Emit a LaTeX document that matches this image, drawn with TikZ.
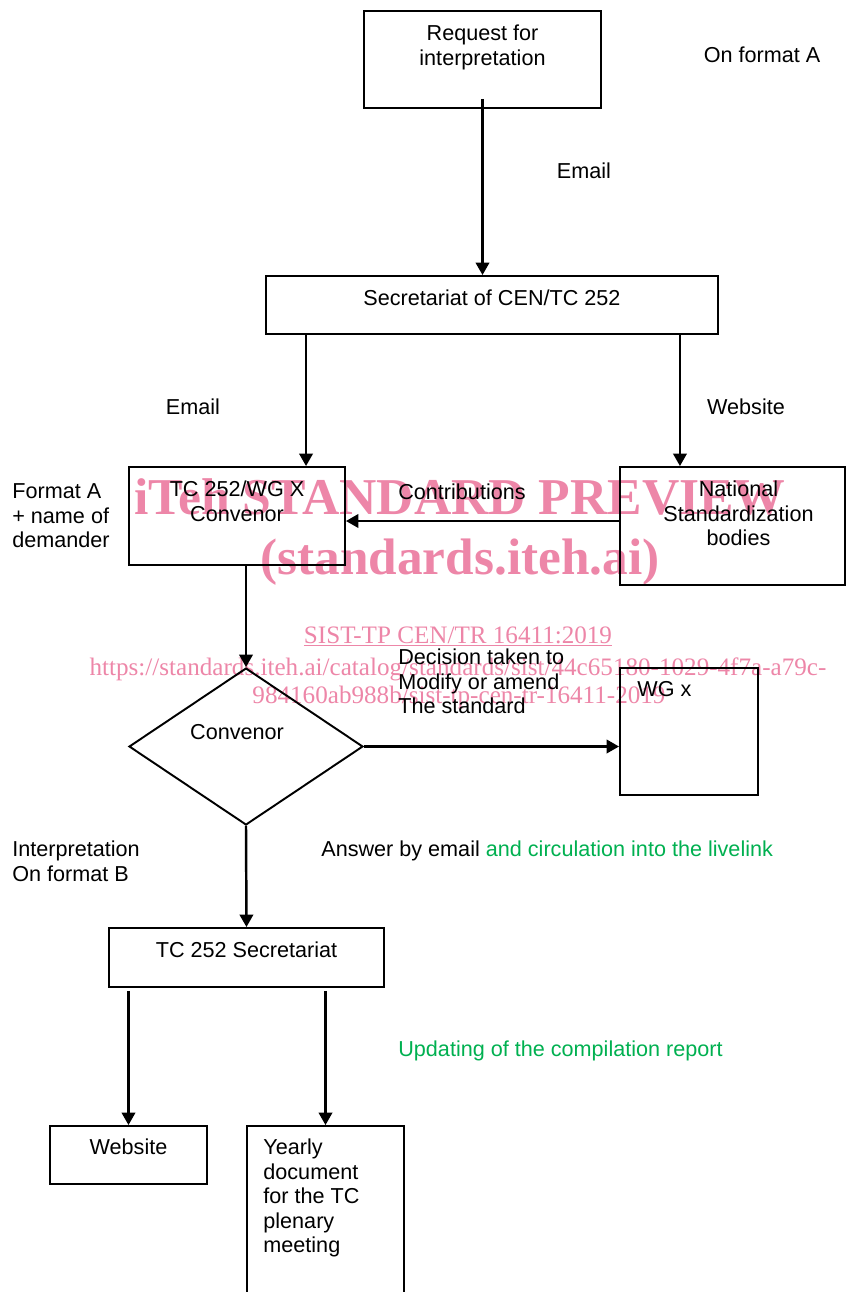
\documentclass[tikz,border=0pt]{standalone}
\usepackage{fontspec}
\setmainfont{Liberation Sans}
\newfontfamily\wmfont{Liberation Serif}
\usepackage{tikz}
\usetikzlibrary{shapes.geometric, arrows.meta, positioning}
\definecolor{wmpink}{RGB}{237,134,168}
\definecolor{livegreen}{RGB}{0,176,80}
\tikzstyle{box} = [rectangle, draw=black, line width=1.1pt, inner sep=0pt]
\tikzstyle{decision} = [diamond, draw=black, line width=1.1pt, inner sep=0pt, minimum width=4.68cm, minimum height=3.14cm]
\tikzstyle{boxtext} = [inner sep=0pt, align=center, font=\fontsize{12.3}{14}\selectfont]
\tikzstyle{note} = [inner sep=0pt, align=left, font=\fontsize{12.3}{14}\selectfont]
\tikzstyle{flow} = [draw=black, line width=1.4pt, -{Triangle[length=0.25cm, width=0.27cm]}]
\tikzstyle{wmark} = [inner sep=0pt, anchor=base, text=wmpink]

\begin{document}
\begin{tikzpicture}[x=0.02cm, y=-0.02cm]
\clip (0,0) rectangle (847,1292);

% Watermark (behind the chart)
\node (wmtitle) [wmark, font=\fontsize{29.4}{30}\wmfont\bfseries] at (460,514) {iTeh STANDARD PREVIEW};
\node (wmsite) [wmark, font=\fontsize{29.2}{30}\wmfont\bfseries] at (460,574) {(standards.iteh.ai)};
\node (wmref) [wmark, font=\fontsize{14.3}{15}\wmfont] at (458,643) {\underline{SIST-TP CEN/TR 16411:2019}};
\node (wmurl) [wmark, font=\fontsize{14.3}{15}\wmfont] at (458,675) {https://standards.iteh.ai/catalog/standards/sist/44c65180-1029-4f7a-a79c-};
\node (wmurltwo) [wmark, font=\fontsize{14.3}{15}\wmfont] at (459,703) {984160ab988b/sist-tp-cen-tr-16411-2019};

% Boxes
\node (req) [box, minimum width=4.74cm, minimum height=1.94cm] at (482.5,59.5) {};
\node (sec) [box, minimum width=9.04cm, minimum height=1.16cm] at (492,305) {};
\node (conv) [box, minimum width=4.32cm, minimum height=1.96cm] at (237,516) {};
\node (nsb) [box, minimum width=4.5cm, minimum height=2.36cm] at (732.5,526) {};
\node (dec) [decision] at (246,746.5) {};
\node (wgx) [box, minimum width=2.76cm, minimum height=2.54cm] at (689,731.5) {};
\node (tsec) [box, minimum width=5.5cm, minimum height=1.18cm] at (246.5,957.5) {};
\node (web) [box, minimum width=3.14cm, minimum height=1.16cm] at (128.5,1155) {};
\node (yearly) [box, minimum width=3.14cm, minimum height=4cm] at (325.5,1226) {};

% Box texts
\node (reqtext) [boxtext, below=0.29cm of req.north] {Request for\\interpretation};
\node (sectext) [boxtext, below=0.29cm of sec.north] {Secretariat of CEN/TC 252};
\node (convtext) [boxtext, below=0.29cm of conv.north] {TC 252/WG X\\Convenor};
\node (nsbtext) [boxtext, below=0.29cm of nsb.north, xshift=0.12cm] {National\\Standardization\\bodies};
\node (dectext) [boxtext, anchor=north] at (237,724.5) {Convenor};
\node (wgxtext) [note, below right=0.29cm and 0.36cm of wgx.north west] {WG x};
\node (tsectext) [boxtext, below=0.29cm of tsec.north] {TC 252 Secretariat};
\node (webtext) [boxtext, below=0.27cm of web.north] {Website};
\node (yearlytext) [note, below right=0.27cm and 0.34cm of yearly.north west] {Yearly\\document\\for the TC\\plenary\\meeting};

% Side notes
\node (onformat) [boxtext, anchor=north] at (762,46.5) {On format A};
\node (emailtop) [boxtext, anchor=north] at (584,162.5) {Email};
\node (emailleft) [boxtext, anchor=north] at (193,398.5) {Email};
\node (website) [boxtext, anchor=north] at (746,398.5) {Website};
\node (contrib) [boxtext, anchor=north] at (462,483.5) {Contributions};
\node (formata) [note, anchor=north west] at (12,483.5) {Format A\\+ name of\\demander};
\node (decision) [note, anchor=north west] at (398,648.5) {Decision taken to\\Modify or amend\\The standard};
\node (interp) [note, anchor=north west] at (12,840.5) {Interpretation\\On format B};
\node (answer) [note, anchor=north west] at (321,840.5) {Answer by email \textcolor{livegreen}{and circulation into the livelink}};
\node (updating) [note, anchor=north west, text=livegreen] at (398,1040.5) {Updating of the compilation report};

% Arrows
\coordinate (secl) at ([xshift=-3.72cm]sec.south);
\coordinate (secr) at ([xshift=3.76cm]sec.south);
\coordinate (contr) at ([yshift=-0.1cm]conv.east);
\draw [flow] ([yshift=0.2cm]req.south) -- (sec.north -| req.south);
\draw [flow] (secl) -- (secl |- conv.north);
\draw [flow] (secr) -- (secr |- nsb.north);
\draw [flow] (contr -| nsb.west) -- (contr);
\draw [flow] (dec.north |- conv.south) -- (dec.north);
\draw [flow] (dec.east) -- (dec.east -| wgx.west);
\draw [flow] (dec.south) -- (tsec.north);
\draw [flow] ([yshift=-0.06cm]web.north |- tsec.south) -- (web.north);
\draw [flow] ([yshift=-0.06cm]yearly.north |- tsec.south) -- (yearly.north);

\end{tikzpicture}
\end{document}
